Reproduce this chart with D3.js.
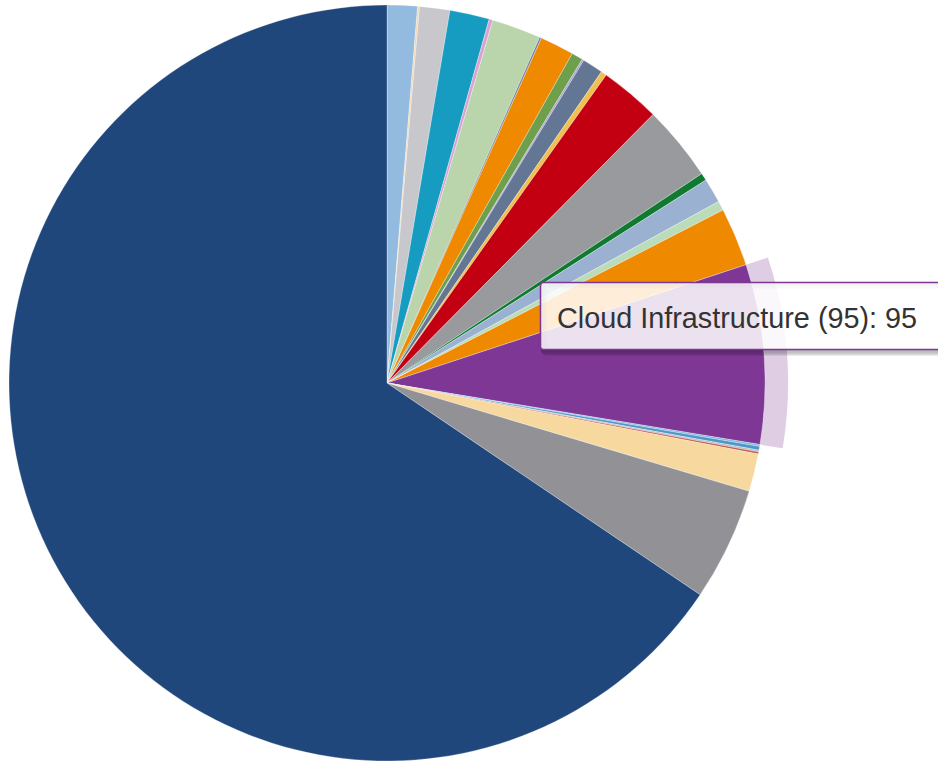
<!DOCTYPE html>
<html>
<head>
<meta charset="utf-8">
<script src="https://cdn.jsdelivr.net/npm/d3@7"></script>
<style>
  html, body { margin: 0; padding: 0; background: #fff; overflow: hidden; }
  svg { display: block; }
</style>
</head>
<body>
<svg id="chart" width="938" height="761"></svg>
<script>
// ---- data (clockwise from 12 o'clock) ----
const categories = [
  "Segment 1", "Segment 2", "Segment 3", "Segment 4", "Segment 5",
  "Segment 6", "Segment 7", "Segment 8", "Segment 9", "Segment 10",
  "Segment 11", "Segment 12", "Segment 13", "Segment 14", "Segment 15",
  "Segment 16", "Segment 17", "Segment 18", "Cloud Infrastructure (95)",
  "Segment 20", "Segment 21", "Segment 22", "Segment 23",
  "Segment 24", "Segment 25", "Segment 26"
];
const values = [
  16, 1, 16, 21, 2,
  26, 1, 18, 6, 1,
  11, 3, 32, 40, 4,
  13, 5, 31, 95,
  1, 2, 1, 1,
  20, 60, 812
];
const colors = [
  "#92bbdf", "#f3d6ae", "#c7c7cc", "#169cc1", "#d7a3d3",
  "#bad5ac", "#6f7fa2", "#ee8900", "#6e9f4a", "#aaa2d3",
  "#637795", "#f1c150", "#c30012", "#999a9e", "#0f7a30",
  "#9bb1d1", "#badcb9", "#ee8900", "#7e3794",
  "#7ab6da", "#4f97c6", "#b4bccb", "#c2533f",
  "#f7d89f", "#929296", "#20477b"
];
const hoveredIndex = 18;
const tooltipText = "Cloud Infrastructure (95): 95";

// ---- layout ----
const cx = 387, cy = 383, radius = 378, haloOuter = 401;

const svg = d3.select("#chart");
const g = svg.append("g").attr("transform", `translate(${cx},${cy})`);

const pie = d3.pie().sort(null).value(d => d.value);
const data = categories.map((c, i) => ({ name: c, value: values[i], color: colors[i] }));
const arcs = pie(data);

const arc = d3.arc().innerRadius(0).outerRadius(radius);
const haloArc = d3.arc().innerRadius(radius).outerRadius(haloOuter);

// halo for hovered slice
g.append("path")
  .attr("d", haloArc(arcs[hoveredIndex]))
  .attr("fill", colors[hoveredIndex])
  .attr("fill-opacity", 0.25);

g.selectAll("path.slice")
  .data(arcs)
  .join("path")
  .attr("class", "slice")
  .attr("d", arc)
  .attr("fill", d => d.data.color)
  .attr("stroke", "#ffffff")
  .attr("stroke-opacity", 0.5)
  .attr("stroke-width", 0.6)
  .attr("stroke-linejoin", "round");

// ---- tooltip ----
const tip = svg.append("g").attr("transform", "translate(540.5,282.5)");
const tw = 430, th = 67;
[3, 2, 1].forEach(k => {
  tip.append("rect")
    .attr("x", k).attr("y", k)
    .attr("width", tw).attr("height", th)
    .attr("rx", 3)
    .attr("fill", "none")
    .attr("stroke", "#000")
    .attr("stroke-opacity", 0.05 * k)
    .attr("stroke-width", 2 * k);
});
tip.append("rect")
  .attr("width", tw).attr("height", th)
  .attr("rx", 3)
  .attr("fill", "rgba(255,255,255,0.85)")
  .attr("stroke", colors[hoveredIndex])
  .attr("stroke-width", 1.5);
tip.append("text")
  .attr("x", 16.5)
  .attr("y", 45.5)
  .attr("font-family", "'Liberation Sans', Arial, sans-serif")
  .attr("font-size", 28.8)
  .attr("fill", "#333333")
  .text(tooltipText);
</script>
</body>
</html>
